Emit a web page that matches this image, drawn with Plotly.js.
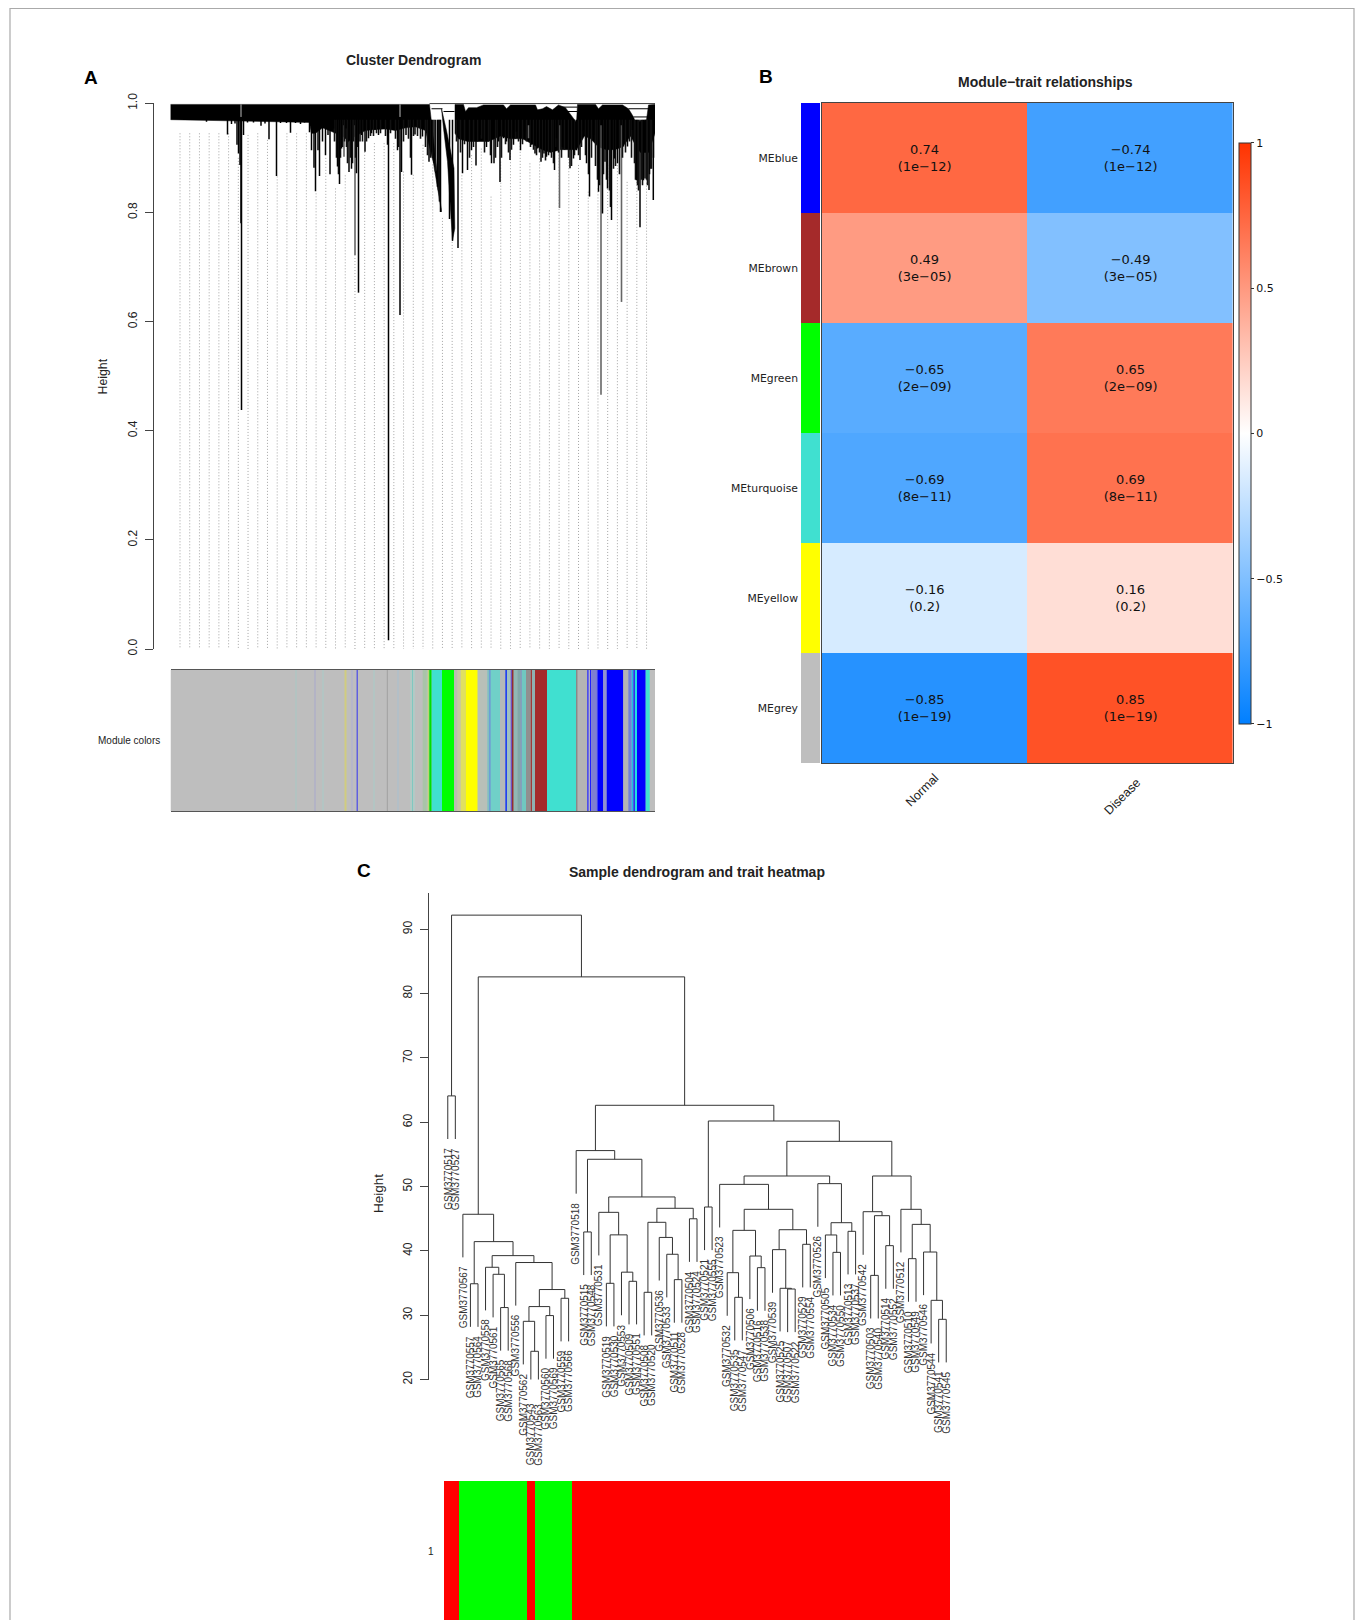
<!DOCTYPE html>
<html>
<head>
<meta charset="utf-8">
<script src="https://cdn.plot.ly/plotly-3.0.1.min.js"></script>
<style>html,body{margin:0;padding:0;background:#fff;overflow:hidden}#chart{width:1357px;height:1620px}</style>
</head>
<body>
<div id="chart"></div>
<script>
/* ---------- Panel A: gene dendrogram ---------- */
const geneTicks = [0, 0.2, 0.4, 0.6, 0.8, 1];
const massLeftRank = [0,259,271,267,263,259,255,245,235,225,215,205,195,185,178,172,165,160,152,145,141,139,0];
const massLeftHeight = [.998,.998,.801,.85,.89,.92,.95,.957,.955,.95,.953,.952,.95,.94,.93,.94,.945,.95,.955,.945,.945,.965,.97];
const massMidRank = [271,276,283.5,284.3,282,280,277,273];
const massMidHeight = [.99,.95,.881,.771,.748,.808,.893,.954];
const massRightRank = [284.5,293,295,298,306,309,313,333,336,340,365,367,372,376,382,388,395,406,407,425,428,432,452,458,463,465,476,478,484.5,484.5,478,470,466,460,452,444,436,428,420,414,406,398,390,380,372,362,352,340,330,318,305,297,288,284.5];
const massRightHeight = [.998,.998,.985,.992,.992,.994,.997,.997,.99,.997,.997,.988,.99,.994,.988,.997,.992,.965,.998,.998,.99,.997,.997,.99,.975,.965,.97,.997,.998,.945,.91,.91,.92,.94,.92,.915,.915,.92,.935,.94,.915,.915,.915,.91,.915,.925,.935,.935,.94,.93,.93,.93,.935,.945];
const blackSpikeRank = [36,57,61,64.5,66.5,68,69.5,70.5,71,73,77,83,90.5,94.5,98.5,106,110,116,120,125,130,134,139,141,143.5,145,147.5,149,152,155,157.5,159.5,163,167,169,171,175.5,178.5,181,186,188,191,194.5,198,201,204.5,208,213,217,218,223,227,229.5,231,235.5,241,244.5,252,258.5,261,263.5,267,270,279,282,287.5,292,297,301,305.5,309.5,316,321,323.5,328,329.5,333,336,339.5,343,346,350,354,361,364.5,367,370.5,373.5,376,379.5,384,386,392,396,399.5,403,406,409.5,413,416,419,423,428,432,434.5,437,441,444,447,453,457,462,466,469.5,473,474.5,478.5,482.8,484.5];
const blackSpikeBottom = [.966,.943,.962,.963,.924,.908,.887,.78,.438,.942,.965,.965,.959,.963,.934,.867,.964,.964,.946,.964,.962,.965,.947,.914,.882,.839,.914,.867,.93,.905,.942,.87,.954,.884,.852,.917,.954,.874,.88,.872,.653,.942,.911,.936,.945,.951,.942,.954,.924,.016,.951,.914,.612,.874,.942,.869,.943,.939,.893,.911,.89,.847,.801,.788,.748,.735,.872,.878,.914,.886,.942,.92,.89,.89,.93,.856,.936,.93,.896,.924,.948,.914,.948,.924,.908,.917,.893,.908,.902,.911,.878,.936,.92,.917,.881,.899,.914,.896,.948,.89,.829,.942,.838,.798,.893,.844,.786,.899,.89,.921,.921,.951,.859,.773,.859,.862,.841,.823,.96];
const denseSpikeRank = [164,166,168,170,172,174,176,177,180,182,183,185,187,189.5,192,196,200,203,206,210,215,220,225,228,233,238,240,243,247,250,255,257,260,262,265,268,269,286,288,290,294,299,303,307,311,314,318,320,325,327,331,335,338,341,345,348,352,356,360,363,366,369,372,375,378,381,383,385,388,391,394,398,401,404,408,411,415,418,421,425,427,429,433,436,439,440,443,445,449,452,455,459,461,464,465,467,468,471,472,476,477,479,480,481,483];
const denseSpikeBottom = [.93,.9,.87,.9,.92,.93,.92,.89,.9,.89,.93,.9,.92,.93,.93,.93,.94,.94,.945,.945,.94,.945,.935,.92,.93,.935,.9,.94,.94,.935,.92,.905,.9,.9,.875,.84,.82,.93,.94,.91,.925,.9,.92,.93,.935,.91,.93,.905,.9,.92,.9,.925,.91,.915,.935,.93,.925,.93,.92,.915,.905,.91,.9,.895,.905,.9,.89,.92,.91,.9,.915,.9,.885,.905,.905,.92,.905,.87,.9,.885,.86,.85,.87,.86,.84,.81,.88,.885,.87,.9,.91,.93,.9,.89,.86,.85,.84,.86,.85,.86,.85,.87,.88,.88,.9];
const graySpikeRank = [173.5,184.5,358,389,430.5,451];
const graySpikeBottom = [.902,.722,.936,.808,.466,.636];
const branchStart = [259,261,273,388,395,458,463];
const branchEnd = [484.5,272,284,407,407,478,478];
const branchHeight = [.9995,.99,.985,.993,.985,.99,.975];
const slitRank = [70.5,229.5];
const guideTops = [.945,.945,.945,.945,.945,.945,.9,.942,.945,.933,.866,.945,.945,.945,.835,.9,.844,.868,.722,.911,.927,.927,.927,.875,.869,.924,.888,.79,.746,.868,.905,.917,.829,.893,.914,.933,.89,.899,.804,.911,.914,.887,.838,.844,.887,.914,.856,.856,.948,.95];
const guideFloor = -0.038;

const moduleStart = [0,125,144,152,174,181,186,203,216.3,227,240,243,254,241.5,252.2,257.2,258.8,261.2,271.5,283.5,286.8,290.2,295.2,307.2,316.8,318.8,320.2,329.5,334.8,336.5,340.2,341.5,343.2,346.8,350.2,351.2,355.5,360.2,361.5,364.5,376.5,405.5,407.2,416.8,418.2,419.5,420.8,426.2,427.5,432.8,436.2,452.8,457.8,461.2,462.8,464.5,466.5,475.2];
const moduleEnd = [484.5,126,145,153,176,182,187.5,204,217.3,228,241,244,255,242.5,256.2,258.8,261.2,271.5,283.5,286.8,290.2,295.2,307.2,316.8,318.8,320.2,329.5,334.8,336.5,340.2,341.5,343.2,346.8,350.2,351.2,355.5,360.2,361.5,364.5,376.5,405.5,407.2,416.8,418.2,419.5,420.8,426.2,427.5,432.8,436.2,452.8,457.8,461.2,462.8,464.5,466.5,475.2,479.2];
const moduleStripe = ['#bebebe','#a8c8c4','#a8a8cc','#a8ccc8','#d0cc80','#b0b0d4','#6060e0','#a8ccc8','#a0a0a0','#a8c0d0','#a8d4cc','#a8d4cc','#a8c8c4','#80c8c0','#a8c4a8','#b8d870','#00e000','#40e0d0','#00ff00','#bcbcae','#c8c8a0','#e0e060','#ffff00','#b8c0b8','#80c0c0','#5090e0','#70d0c8','#b4b8b8','#2040f0','#a0c0c0','#7050c0','#903030','#90b8b4','#80a8a8','#7080c0','#70c8c0','#909090','#a03838','#90b0b0','#a52a2a','#40e0d0','#888888','#b4b4b4','#2020ff','#b0b0c8','#2020ff','#8080d0','#4040f0','#0000ff','#9090d0','#0000ff','#b4b4b4','#7080d8','#20c0e0','#3030f0','#20e0e0','#0000ff','#40e0d0'];

/* ---------- Panel B: module-trait table ---------- */
const traitNames = ['Normal', 'Disease'];
const moduleNames = ['MEblue', 'MEbrown', 'MEgreen', 'MEturquoise', 'MEyellow', 'MEgrey'];
const moduleColors = ['#0000ff', '#a52a2a', '#00ff00', '#40e0d0', '#ffff00', '#bebebe'];
const normalCor = [0.74, 0.49, -0.65, -0.69, -0.16, -0.85];
const diseaseCor = [-0.74, -0.49, 0.65, 0.69, 0.16, 0.85];
const corPvalue = ['1e−12', '3e−05', '2e−09', '8e−11', '0.2', '1e−19'];
const scaleTicks = [-1, -0.5, 0, 0.5, 1];
const scaleTickText = ['−1', '−0.5', '0', '0.5', '1'];

/* ---------- Panel C: sample dendrogram, [height, left, right] ---------- */
const leafHang = 6.7;
const sampleTicks = [20, 30, 40, 50, 60, 70, 80, 90];
const sampleTree = [92.2, [64.1, '517', '527'],
  [82.6,
    [45.7, '567', [41.45, [34.9, '557', '564'], [39.27,
      [37.46, '558', [36.37, '561', [31.2, '565', '568']]],
      [38.2, '556', [34.0, [31.35, [29.06, '562', [24.4, '543', '563']], [29.95, '560', '569']], [32.64, '559', '566']]]]]],
    [62.64,
      [55.6, '518', [54.25, [42.95, '515', '548'], [48.39,
        [46.0, '531', [42.5, [34.97, '519', '530'], [36.7, '553', [35.28, '509', '551']]]],
        [46.63, [44.45, [33.57, '508', '520'], [42.1, '536', [39.48, '533', [35.54, '511', '528']]]], [45.0, '504', '524']]]]],
      [60.2, [46.83, '521', '555'], [57.04,
        [51.65,
          [50.35, '523', [46.47,
            [43.2, [36.62, '532', [32.79, '535', '547']], [39.21, '506', [37.4, '516', '538']]],
            [43.3, [40.2, '539', [34.19, '525', [34.08, '507', '522']]], [41.03, '529', '554']]]],
          [50.46, '526', [44.39, [42.48, '505', [39.78, '534', '550']], [43.05, '513', '537']]]],
        [51.65,
          [46.1, '542', [45.48, [36.2, '503', '540'], [40.82, '514', '552']]],
          [46.47, '512', [44.13, [38.8, '510', '549'], [39.83, '546', [32.32, '544', [29.37, '541', '545']]]]]]]]]]];
const normalSamples = ['567','557','564','558','561','565','568','556','562','563','560','569','559','566'];

/* ---------- Page geometry helpers ---------- */
const W = 1357, H = 1620;
const dx = (a, b) => [a / W, b / W];
const dy = (top, bottom) => [1 - bottom / H, 1 - top / H];
const FONT = 'Liberation Sans, Arial, sans-serif';
const INK = '#222';

/* ---------- Build traces ---------- */
function vertical(ranks, bottoms, top) {
  const x = [], y = [];
  ranks.forEach((r, i) => { x.push(r, r, null); y.push(top, bottoms[i], null); });
  return {x, y};
}
const traces = [];
const guideRanks = guideTops.map((_, i) => 9.5 + i * 9.72);
const guides = vertical(guideRanks, guideTops.map(() => guideFloor), 0);
guides.y = guides.y.map((v, i) => (i % 3 === 0 ? guideTops[i / 3] : v));
traces.push({type: 'scatter', mode: 'lines', x: guides.x, y: guides.y, xaxis: 'x', yaxis: 'y', cliponaxis: false,
  line: {color: '#a4a4a4', width: 1, dash: '1px,2px'}, hoverinfo: 'skip', showlegend: false});
[[massLeftRank, massLeftHeight], [massMidRank, massMidHeight], [massRightRank, massRightHeight]].forEach(([x, y]) => {
  traces.push({type: 'scatter', mode: 'lines', x: x.concat(x[0]), y: y.concat(y[0]), fill: 'toself', fillcolor: '#000',
    line: {color: '#000', width: 0.5}, xaxis: 'x', yaxis: 'y', hoverinfo: 'skip', showlegend: false});
});
const gs = vertical(graySpikeRank, graySpikeBottom, 0.96);
traces.push({type: 'scatter', mode: 'lines', x: gs.x, y: gs.y, line: {color: '#666', width: 1.6}, xaxis: 'x', yaxis: 'y', hoverinfo: 'skip', showlegend: false});
const ds = vertical(denseSpikeRank, denseSpikeBottom, 0.97);
traces.push({type: 'scatter', mode: 'lines', x: ds.x, y: ds.y, line: {color: '#111', width: 1.6}, xaxis: 'x', yaxis: 'y', hoverinfo: 'skip', showlegend: false});
const bs = vertical(blackSpikeRank, blackSpikeBottom, 0.97);
traces.push({type: 'scatter', mode: 'lines', x: bs.x, y: bs.y, line: {color: '#000', width: 1.5}, xaxis: 'x', yaxis: 'y', hoverinfo: 'skip', showlegend: false});
const bx = [], by = [];
branchStart.forEach((s, i) => { bx.push(s, branchEnd[i], null); by.push(branchHeight[i], branchHeight[i], null); });
traces.push({type: 'scatter', mode: 'lines', x: bx, y: by, line: {color: '#000', width: 1}, xaxis: 'x', yaxis: 'y', cliponaxis: false, hoverinfo: 'skip', showlegend: false});
const sl = vertical(slitRank, slitRank.map(() => 0.975), 0.998);
traces.push({type: 'scatter', mode: 'lines', x: sl.x, y: sl.y, line: {color: '#bbb', width: 1}, xaxis: 'x', yaxis: 'y', hoverinfo: 'skip', showlegend: false});
traces.push({type: 'bar', x: moduleStart, y: moduleStart.map(() => 1), width: moduleEnd.map((e, i) => e - moduleStart[i]), offset: 0,
  marker: {color: moduleStripe, line: {width: 0}}, xaxis: 'x', yaxis: 'y2', hoverinfo: 'skip', showlegend: false});

/* Panel B */
const corZ = normalCor.map((v, i) => [v, diseaseCor[i]]);
const corText = normalCor.map((v, i) => [v, diseaseCor[i]].map(c => String(c).replace('-', '−') + '<br>(' + corPvalue[i] + ')'));
traces.push({type: 'heatmap', x: traitNames, y: moduleNames, z: corZ, text: corText, texttemplate: '%{text}', zmin: -1, zmax: 1,
  textfont: {family: 'DejaVu Sans, sans-serif', size: 13, color: '#111'},
  colorscale: [[0, 'rgb(0,127,255)'], [0.5, 'rgb(255,255,255)'], [1, 'rgb(255,51,0)']],
  xaxis: 'x2', yaxis: 'y3', hoverinfo: 'skip',
  colorbar: {x: 1239.2 / W, xanchor: 'left', xpad: 0, ypad: 0, y: 1 - 723.9 / H, yanchor: 'bottom', len: (723.5 - 142.6) / H, lenmode: 'fraction',
    thickness: 11.5, thicknessmode: 'pixels', outlinewidth: 1, outlinecolor: '#333', borderwidth: 0,
    ticks: 'outside', ticklen: 3, tickwidth: 1, tickcolor: '#333', tickmode: 'array', tickvals: scaleTicks, ticktext: scaleTickText,
    tickfont: {family: 'DejaVu Sans, sans-serif', size: 11, color: '#111'}}});
const stripScale = [];
moduleColors.forEach((c, i) => { stripScale.push([i / 6, c], [(i + 1) / 6, c]); });
traces.push({type: 'heatmap', x: ['module'], y: moduleNames, z: moduleNames.map((_, i) => [i]), zmin: -0.5, zmax: 5.5,
  colorscale: stripScale, showscale: false, xaxis: 'x3', yaxis: 'y4', hoverinfo: 'skip'});

/* Panel C */
const leafOrder = [];
const treeX = [], treeY = [];
function walk(node) {
  if (typeof node === 'string') {
    leafOrder.push(node);
    return {x: leafOrder.length - 1, leaf: true};
  }
  const a = walk(node[1]), b = walk(node[2]), h = node[0];
  const yA = a.leaf ? h - leafHang : a.h, yB = b.leaf ? h - leafHang : b.h;
  treeX.push(a.x, a.x, b.x, b.x, null);
  treeY.push(yA, h, h, yB, null);
  return {x: (a.x + b.x) / 2, h};
}
walk(sampleTree);
traces.push({type: 'scatter', mode: 'lines', x: treeX, y: treeY, xaxis: 'x4', yaxis: 'y5', cliponaxis: false,
  line: {color: '#333', width: 1}, hoverinfo: 'skip', showlegend: false});
const traitRow = leafOrder.map(id => (normalSamples.includes(id) ? 1 : 0));
traces.push({type: 'heatmap', x: leafOrder.map((_, i) => i), y: ['1'], z: [traitRow], zmin: 0, zmax: 1, showscale: false,
  colorscale: [[0, '#ff0000'], [0.5, '#ff0000'], [0.5, '#00ff00'], [1, '#00ff00']], xaxis: 'x4', yaxis: 'y6', hoverinfo: 'skip'});

/* Leaf heights for the sample labels */
const leafHeights = {};
(function collect(node) {
  if (typeof node === 'string') return;
  [node[1], node[2]].forEach(c => { if (typeof c === 'string') leafHeights[c] = node[0] - leafHang; else collect(c); });
})(sampleTree);
/* The same height scale, extended below 20 so that the lowest leaf labels stay on their axis */
traces.push({type: 'scatter', mode: 'markers', x: leafOrder.map((_, i) => i), y: leafOrder.map(id => leafHeights[id]),
  marker: {size: 1, opacity: 0}, xaxis: 'x4', yaxis: 'y7', hoverinfo: 'skip', showlegend: false});

/* ---------- Text ---------- */
const txt = (x, y, text, size, opts) => Object.assign({xref: 'paper', yref: 'paper', x: x / W, y: 1 - y / H, text, showarrow: false,
  xanchor: 'center', yanchor: 'middle', font: {family: FONT, size, color: INK}}, opts || {});
const annotations = [
  txt(91, 77.5, '<b>A</b>', 19, {font: {family: FONT, size: 19, color: '#000'}}),
  txt(766, 76.5, '<b>B</b>', 19, {font: {family: FONT, size: 19, color: '#000'}}),
  txt(364, 870, '<b>C</b>', 19, {font: {family: FONT, size: 19, color: '#000'}}),
  txt(413.4, 60.5, '<b>Cluster Dendrogram</b>', 14),
  txt(1045, 82, '<b>Module−trait relationships</b>', 14),
  txt(696.6, 872, '<b>Sample dendrogram and trait heatmap</b>', 14),
  txt(102, 376.5, 'Height', 12.3, {textangle: -90}),
  txt(378, 1194, 'Height', 13.5, {textangle: -90}),
  txt(129, 740, 'Module colors', 10),
  txt(431, 1551, '1', 10),
  {xref: 'x2', yref: 'paper', x: 'Normal', xshift: -2, y: 1 - 790 / H, text: 'Normal', textangle: -45, showarrow: false, font: {family: FONT, size: 12.5, color: INK}},
  {xref: 'x2', yref: 'paper', x: 'Disease', xshift: -8, y: 1 - 797 / H, text: 'Disease', textangle: -45, showarrow: false, font: {family: FONT, size: 12.5, color: INK}}
];
leafOrder.forEach((id, i) => {
  annotations.push({xref: 'x4', yref: 'y7', x: i, y: leafHeights[id], yanchor: 'top', xanchor: 'center', yshift: -8, text: 'GSM3770' + id,
    textangle: -90, showarrow: false, borderpad: 0, font: {family: FONT, size: 10, color: '#333'}});
});

/* ---------- Layout ---------- */
const hidden = {showgrid: false, zeroline: false, showticklabels: false, ticks: '', showline: false};
const leftAxis = (domain, pos, range, ticks, standoff) => ({domain, anchor: 'free', position: pos / W, range, tickmode: 'array', tickvals: ticks,
  ticktext: ticks.map(String), tickangle: -90, ticks: 'outside', ticklen: 8, tickwidth: 1, tickcolor: '#444', showgrid: false, zeroline: false,
  ticklabelstandoff: standoff, showline: true, linecolor: '#444', linewidth: 1, tickfont: {family: FONT, size: 12, color: INK}});
const layout = {
  width: W, height: H, paper_bgcolor: '#fff', plot_bgcolor: 'rgba(0,0,0,0)', showlegend: false, barmode: 'overlay',
  margin: {l: 0, r: 0, t: 0, b: 0, pad: 0, autoexpand: false},
  xaxis: Object.assign({}, hidden, {domain: dx(170.5, 655), range: [0, 484.5], anchor: 'y2', showline: true, mirror: true, linecolor: '#555', linewidth: 1}),
  yaxis: Object.assign(leftAxis(dy(103.3, 649), 153, [0, 1], geneTicks, 3), {tickformat: '.1f', ticktext: geneTicks.map(v => v.toFixed(1))}),
  yaxis2: Object.assign({}, hidden, {domain: dy(670, 811), range: [0, 1], anchor: 'x'}),
  xaxis2: Object.assign({}, hidden, {domain: dx(821.6, 1233), anchor: 'y3', showline: true, mirror: true, linecolor: '#444', linewidth: 1, type: 'category'}),
  yaxis3: Object.assign({}, hidden, {domain: dy(103, 763), anchor: 'x2', range: [5.5, -0.5], type: 'category', showline: true, mirror: true, linecolor: '#444', linewidth: 1}),
  xaxis3: Object.assign({}, hidden, {domain: dx(801, 820), anchor: 'y4', type: 'category'}),
  yaxis4: Object.assign({}, hidden, {domain: dy(103, 763), anchor: 'x3', range: [5.5, -0.5], type: 'category', showticklabels: true, tickmode: 'array', ticklabelstandoff: 2,
    tickvals: moduleNames, ticktext: moduleNames, tickfont: {family: 'DejaVu Sans, sans-serif', size: 10.8, color: INK}}),
  xaxis4: Object.assign({}, hidden, {domain: dx(444, 950), range: [-0.5, 66.5], anchor: 'y6'}),
  yaxis5: leftAxis(dy(893, 1379.6), 428.3, [20, 95.64], sampleTicks, 4),
  yaxis6: Object.assign({}, hidden, {domain: dy(1481, 1620), anchor: 'x4', type: 'category'}),
  yaxis7: Object.assign({}, hidden, {domain: dy(893, 1470), anchor: 'x4', range: [5.95, 95.64]}),
  annotations,
  shapes: [{type: 'rect', xref: 'paper', yref: 'paper', x0: 10 / W, x1: 1354 / W, y0: -0.01, y1: 1 - 8.5 / H, line: {color: '#aaa', width: 1.2}, layer: 'below'}]
};
Plotly.newPlot('chart', traces, layout, {displayModeBar: false, staticPlot: true});
</script>
</body>
</html>
